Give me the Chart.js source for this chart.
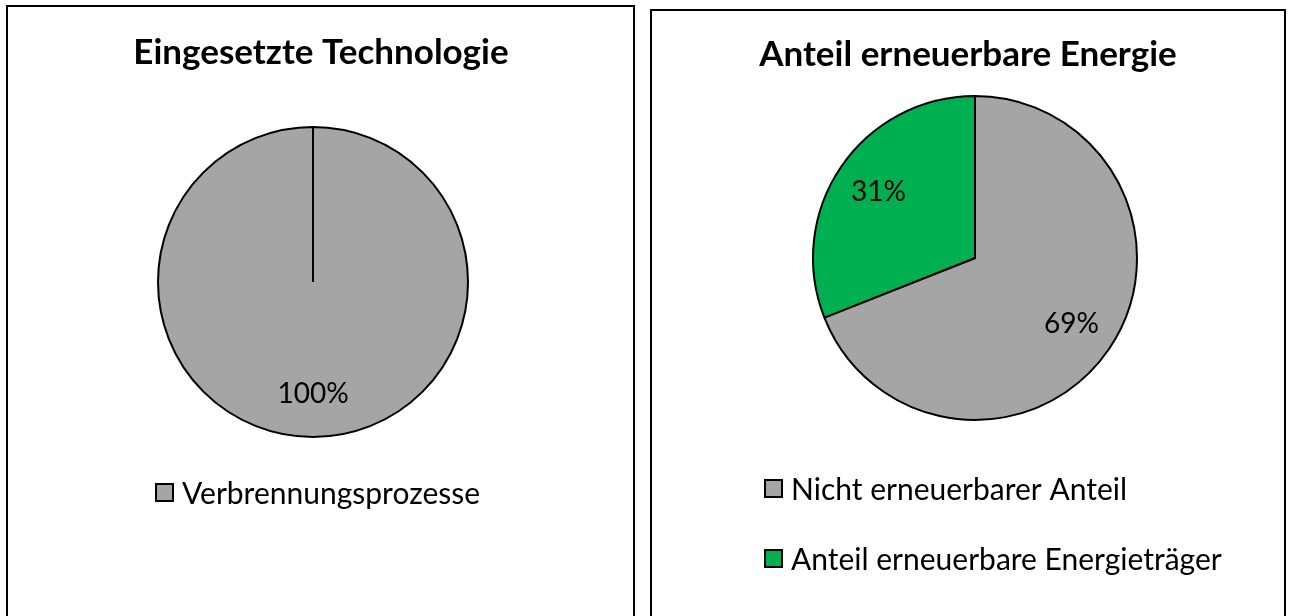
<!DOCTYPE html>
<html>
<head>
<meta charset="utf-8">
<script src="https://cdn.jsdelivr.net/npm/chart.js@4.4.0/dist/chart.umd.min.js"></script>
<style>
  body { margin: 0; background: #fff; width: 1290px; height: 616px; overflow: hidden; position: relative; }
  .panel { position: absolute; border: 2.5px solid #000; background: #fff; }
  #p1 { left: 6px; top: 5px; width: 625px; height: 640px; }
  #p2 { left: 650px; top: 9px; width: 632px; height: 640px; }
  canvas { display: block; }
</style>
</head>
<body>
<div class="panel" id="p1"><canvas id="chart1"></canvas></div>
<div class="panel" id="p2"><canvas id="chart2"></canvas></div>
<script>
// data
const techLabels = ['Verbrennungsprozesse'];
const techValues = [100];
const techColors = ['#A5A5A5'];

const energyLabels = ['Nicht erneuerbarer Anteil', 'Anteil erneuerbare Energieträger'];
const energyValues = [69, 31];
const energyColors = ['#A5A5A5', '#00B050'];

const FONT = 'Lato, "Open Sans", sans-serif';

// percentage labels inside the slices
const sliceLabels = {
    id: 'sliceLabels',
    afterDatasetsDraw(chart) {
        const ctx = chart.ctx;
        const ds = chart.data.datasets[0];
        const total = ds.data.reduce((a, b) => a + b, 0);
        chart.getDatasetMeta(0).data.forEach((arc, i) => {
            const mid = (arc.startAngle + arc.endAngle) / 2;
            const r = arc.outerRadius * 0.72;
            const x = arc.x + Math.cos(mid) * r;
            const y = arc.y + Math.sin(mid) * r;
            ctx.save();
            ctx.fillStyle = '#000';
            ctx.font = '28px ' + FONT;
            ctx.textAlign = 'center';
            ctx.textBaseline = 'middle';
            ctx.fillText(Math.round(ds.data[i] / total * 100) + '%', x, y);
            ctx.restore();
        });
    }
};

// title + legend drawn from chart data
const titleLegend = {
    id: 'titleLegend',
    afterDraw(chart, args, opts) {
        const ctx = chart.ctx;
        ctx.save();
        ctx.fillStyle = '#000';
        ctx.font = 'bold 35px ' + FONT;
        ctx.textAlign = 'center';
        ctx.textBaseline = 'middle';
        ctx.fillText(opts.title, opts.titleX, opts.titleY);

        const ds = chart.data.datasets[0];
        ctx.font = '30px ' + FONT;
        ctx.textAlign = 'left';
        chart.data.labels.forEach((label, i) => {
            const y = opts.legendY + i * opts.legendGap;
            ctx.fillStyle = ds.backgroundColor[i];
            ctx.fillRect(opts.legendX + 1, y - 9, 17, 17);
            ctx.strokeStyle = '#000';
            ctx.lineWidth = 2;
            ctx.strokeRect(opts.legendX + 1, y - 9, 17, 17);
            ctx.fillStyle = '#000';
            ctx.fillText(label, opts.legendX + 27, y + 1);
        });
        ctx.restore();
    }
};

function makePie(id, labels, values, colors, layout, legendOpts) {
    const ctx = document.getElementById(id).getContext('2d');
    return new Chart(ctx, {
        type: 'pie',
        data: {
            labels: labels,
            datasets: [{
                data: values,
                backgroundColor: colors,
                borderColor: '#000',
                borderWidth: 2,
                hoverOffset: 0
            }]
        },
        options: {
            responsive: true,
            maintainAspectRatio: false,
            animation: false,
            events: [],
            layout: { padding: layout },
            plugins: {
                legend: { display: false },
                tooltip: { enabled: false },
                titleLegend: legendOpts
            }
        },
        plugins: [sliceLabels, titleLegend]
    });
}

// left: center (305,275) r 155 inside the panel
makePie('chart1', techLabels, techValues, techColors,
    { left: 149, right: 625 - 305 - 156, top: 119, bottom: 640 - 275 - 156 },
    { title: 'Eingesetzte Technologie', titleX: 313, titleY: 46, legendX: 147, legendY: 486, legendGap: 70 });

// right: center (323,247) r 162
makePie('chart2', energyLabels, energyValues, energyColors,
    { left: 323 - 163, right: 632 - 323 - 163, top: 247 - 163, bottom: 640 - 247 - 163 },
    { title: 'Anteil erneuerbare Energie', titleX: 316, titleY: 44, legendX: 112, legendY: 478, legendGap: 70 });
</script>
</body>
</html>
